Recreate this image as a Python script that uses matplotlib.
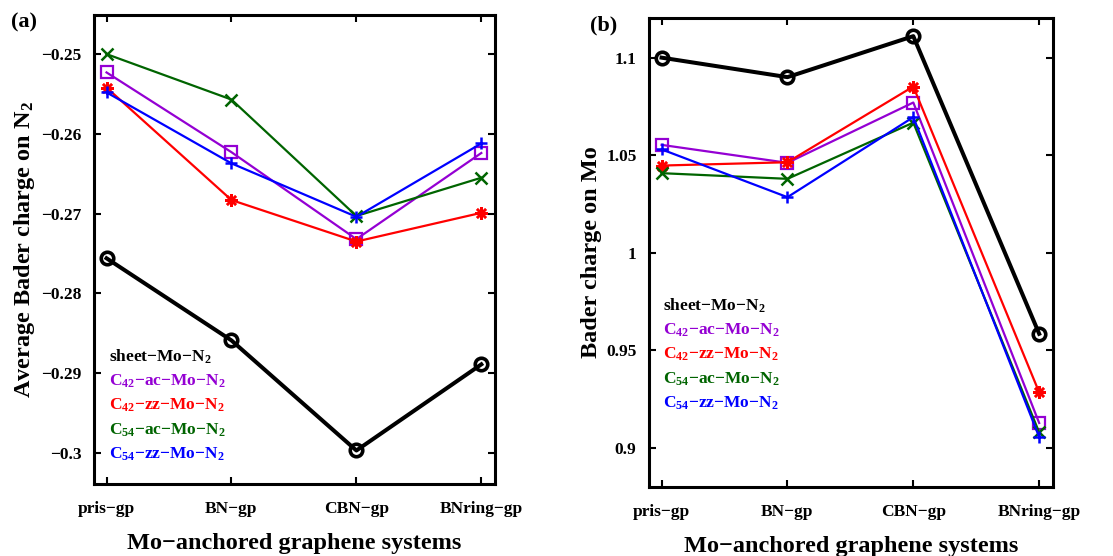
import numpy as np
import matplotlib
matplotlib.use("Agg")
import matplotlib.pyplot as plt

# Bader charge data for Mo-anchored graphene systems
systems = ["pris\u2212gp", "BN\u2212gp", "CBN\u2212gp", "BNring\u2212gp"]

labels = [
    "sheet\u2212Mo\u2212N$_2$",
    "C$_{42}$\u2212ac\u2212Mo\u2212N$_2$",
    "C$_{42}$\u2212zz\u2212Mo\u2212N$_2$",
    "C$_{54}$\u2212ac\u2212Mo\u2212N$_2$",
    "C$_{54}$\u2212zz\u2212Mo\u2212N$_2$",
]

# average Bader charge on N2
n2_sheet = [-0.2756, -0.2859, -0.2997, -0.2889]
n2_c42_ac = [-0.2523, -0.2623, -0.2732, -0.2624]
n2_c42_zz = [-0.2542, -0.2683, -0.2735, -0.2699]
n2_c54_ac = [-0.2500, -0.2557, -0.2703, -0.2655]
n2_c54_zz = [-0.2548, -0.2637, -0.2704, -0.2612]

# Bader charge on Mo
mo_sheet = [1.100, 1.090, 1.111, 0.9585]
mo_c42_ac = [1.0553, 1.0461, 1.0770, 0.9128]
mo_c42_zz = [1.0447, 1.0464, 1.0852, 0.9285]
mo_c54_ac = [1.0408, 1.0379, 1.0667, 0.9080]
mo_c54_zz = [1.0530, 1.0285, 1.0695, 0.9056]

colors = ["black", "#9400D3", "#FF0000", "#006400", "#0000FF"]
markers = ["o", "s", (8, 2, 0), "x", "+"]

plt.rcParams["font.family"] = "Liberation Serif"
plt.rcParams["font.weight"] = "bold"
plt.rcParams["mathtext.fontset"] = "custom"
plt.rcParams["mathtext.rm"] = "Liberation Serif:bold"
plt.rcParams["mathtext.bf"] = "Liberation Serif:bold"
plt.rcParams["mathtext.default"] = "bf"

fig = plt.figure(figsize=(11.13, 5.56), dpi=100)
ax_a = fig.add_axes([0.0845, 0.1295, 0.3603, 0.8435])
ax_b = fig.add_axes([0.5831, 0.1241, 0.3630, 0.8435])

x = np.arange(len(systems))


def draw(ax, series, ylim, yticks, yticklabels, ylabel, key_x, key_y):
    for i, (vals, c, m, lab) in enumerate(zip(series, colors, markers, labels)):
        if i == 0:
            ax.plot(x, vals, color=c, lw=2.9, marker=m, ms=9, mfc="none",
                    mew=2.6, zorder=3)
        elif m == "s":
            ax.plot(x, vals, color=c, lw=1.6, marker=m, ms=8, mfc="none",
                    mew=1.6, zorder=4)
        else:
            ax.plot(x, vals, color=c, lw=1.6, marker=m, ms=9, mew=1.8,
                    zorder=4)
        ax.text(key_x, key_y - i * 0.052, lab, color=c, fontsize=12.5,
                fontweight="bold", transform=ax.transAxes, va="center",
                ha="left")
    ax.set_xlim(-0.1, 3.11)
    ax.set_ylim(*ylim)
    ax.set_xticks(x)
    ax.set_xticklabels(systems, fontsize=12.5, fontweight="bold")
    ax.set_yticks(yticks)
    ax.set_yticklabels(yticklabels, fontsize=12.5, fontweight="bold")
    ax.tick_params(direction="in", length=5, width=1.5, top=True,
                   right=True)
    ax.tick_params(axis="x", pad=12)
    ax.tick_params(axis="y", pad=9)
    for sp in ax.spines.values():
        sp.set_linewidth(2.2)
    ax.set_xlabel("Mo\u2212anchored graphene systems", fontsize=17.5,
                  fontweight="bold", labelpad=12)
    ax.set_ylabel(ylabel, fontsize=17.5, fontweight="bold", labelpad=3)


draw(ax_a, [n2_sheet, n2_c42_ac, n2_c42_zz, n2_c54_ac, n2_c54_zz],
     (-0.3039, -0.2451),
     [-0.25, -0.26, -0.27, -0.28, -0.29, -0.3],
     ["\u22120.25", "\u22120.26", "\u22120.27", "\u22120.28", "\u22120.29",
      "\u22120.3"],
     "Average Bader charge on N$_2$", 0.037, 0.271)

draw(ax_b, [mo_sheet, mo_c42_ac, mo_c42_zz, mo_c54_ac, mo_c54_zz],
     (0.880, 1.1203),
     [0.9, 0.95, 1.0, 1.05, 1.1],
     ["0.9", "0.95", "1", "1.05", "1.1"],
     "Bader charge on Mo", 0.035, 0.386)

fig.text(0.022, 0.96, "(a)", fontsize=16, fontweight="bold", ha="center",
         va="center")
fig.text(0.5425, 0.955, "(b)", fontsize=16, fontweight="bold", ha="center",
         va="center")

fig.savefig("out.png", dpi=100)
